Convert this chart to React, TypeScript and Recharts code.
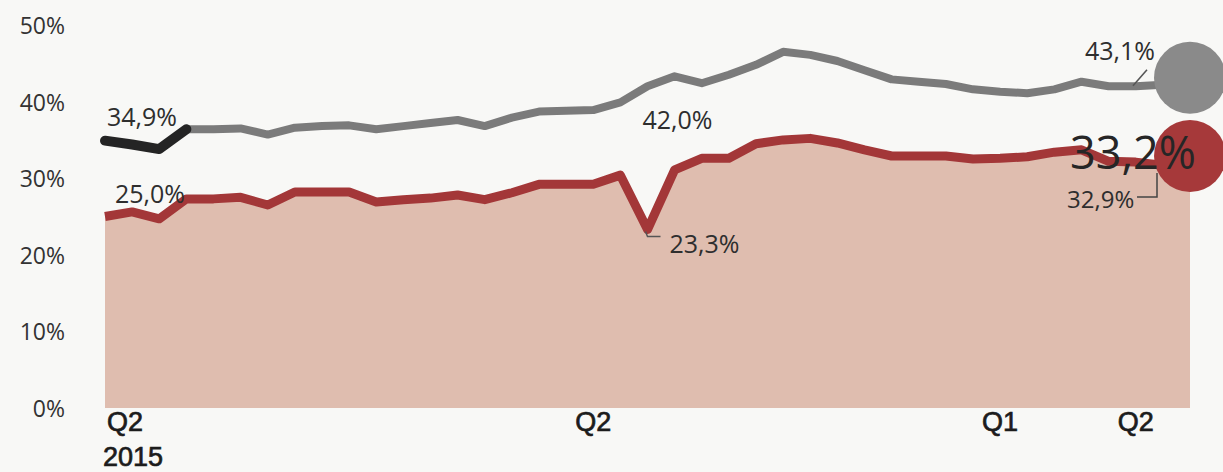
import React from "react";
import { ComposedChart, Line, Area, XAxis, YAxis, LabelList } from "recharts";

// upper series (grey line, first stretch highlighted in black) and lower series (red, filled)
const upperValues = [
  34.9, 34.4, 33.8, 36.4, 36.4, 36.5, 35.7, 36.6, 36.8, 36.9, 36.4, 36.8, 37.2, 37.6,
  36.8, 37.9, 38.7, 38.8, 38.9, 39.9, 42.0, 43.3, 42.4, 43.5, 44.8, 46.5, 46.1, 45.3,
  44.1, 42.9, 42.6, 42.3, 41.6, 41.3, 41.1, 41.6, 42.6, 42.0, 42.0, 42.2, 43.1,
];
const lowerValues = [
  25.0, 25.6, 24.7, 27.3, 27.3, 27.5, 26.5, 28.2, 28.2, 28.2, 26.9, 27.2, 27.4, 27.8,
  27.2, 28.1, 29.2, 29.2, 29.2, 30.4, 23.3, 31.1, 32.6, 32.6, 34.5, 35.0, 35.2, 34.6,
  33.7, 32.9, 32.9, 32.9, 32.5, 32.6, 32.8, 33.4, 33.7, 32.2, 32.1, 31.7, 32.9,
];
const highlightEnd = 3; // black part of the upper line
const headlineValue = 33.2;

const quarterTicks = [0, 18, 33, 38];
const quarterLabels = ["Q2", "Q2", "Q1", "Q2"];
const firstYear = "2015";
const yTicks = [0, 10, 20, 30, 40, 50];

const lastIndex = upperValues.length - 1;
const dipIndex = 20;

const data = upperValues.map((u, i) => ({
  i,
  lead: i <= highlightEnd ? u : null,
  upper: i >= highlightEnd ? u : null,
  lower: lowerValues[i],
}));

const fmt = (v: number) => v.toFixed(1).replace(".", ",") + "%";

const LABEL_FONT = "'Open Sans', 'Noto Sans', sans-serif";
const labelStyle = { fontFamily: LABEL_FONT, fontSize: 25, fill: "#2e2e2e" };

const endDot = (color: string) => (props: any) => {
  const { cx, cy, index } = props;
  if (index !== lastIndex || cx == null || cy == null) return <g key={`d${index}`} />;
  return <circle key={`d${index}`} cx={cx} cy={cy} r={36} fill={color} />;
};

const leadLabel = (props: any) => {
  const { x, y, value, index } = props;
  if (index !== 0 || value == null) return null;
  return (
    <text x={x + 2} y={y - 25} dominantBaseline="central" {...labelStyle}>
      {fmt(value)}
    </text>
  );
};

const upperLabel = (props: any) => {
  const { x, y, value, index } = props;
  if (value == null) return null;
  if (index === dipIndex)
    return (
      <text x={x - 5} y={y + 33} dominantBaseline="central" {...labelStyle}>
        {fmt(value)}
      </text>
    );
  if (index === lastIndex)
    return (
      <g>
        <path d={`M${x - 57},${y + 8} L${x - 43},${y - 8}`} stroke="#555" strokeWidth={1.5} fill="none" />
        <text x={x - 105} y={y - 28} dominantBaseline="central" {...labelStyle}>
          {fmt(value)}
        </text>
      </g>
    );
  return null;
};

const lowerLabel = (props: any) => {
  const { x, y, value, index } = props;
  if (value == null) return null;
  if (index === 0)
    return (
      <text x={x + 10} y={y - 24} dominantBaseline="central" {...labelStyle}>
        {fmt(value)}
      </text>
    );
  if (index === dipIndex)
    return (
      <g>
        <path d={`M${x - 2},${y + 2} L${x},${y + 7} L${x + 13},${y + 7}`} stroke="#555" strokeWidth={1.5} fill="none" />
        <text x={x + 22} y={y + 13} dominantBaseline="central" {...labelStyle}>
          {fmt(value)}
        </text>
      </g>
    );
  if (index === lastIndex)
    return (
      <g>
        <path d={`M${x - 53},${y + 41} L${x - 33},${y + 41} L${x - 33},${y + 17}`} stroke="#444" strokeWidth={1.5} fill="none" />
        <text x={x - 123} y={y + 43} dominantBaseline="central" {...labelStyle} fontSize={24}>
          {fmt(value)}
        </text>
        <text
          x={x - 57}
          y={y - 4}
          textAnchor="middle"
          dominantBaseline="central"
          fontFamily={LABEL_FONT}
          fontSize={45}
          fill="#262626"
        >
          {fmt(headlineValue)}
        </text>
      </g>
    );
  return null;
};

const PercentTick = (props: any) => {
  const { y, payload } = props;
  return (
    <text x={65} y={y} textAnchor="end" dominantBaseline="central" fontFamily={LABEL_FONT} fontSize={23} fill="#333">
      {`${payload.value}%`}
    </text>
  );
};

const QuarterTick = (props: any) => {
  const { x, y, payload } = props;
  const k = quarterTicks.indexOf(payload.value);
  const first = k === 0;
  const style = {
    fontFamily: "'Liberation Sans', Arial, sans-serif",
    fontSize: 27,
    fill: "#1c1c1c",
    stroke: "#1c1c1c",
    strokeWidth: 0.7,
  };
  return (
    <g>
      <text x={first ? x + 2 : x} y={y + 14} textAnchor={first ? "start" : "middle"} dominantBaseline="central" {...style}>
        {quarterLabels[k]}
      </text>
      {first && (
        <text x={x - 2} y={y + 49} textAnchor="start" dominantBaseline="central" {...style}>
          {firstYear}
        </text>
      )}
    </g>
  );
};

export default function App() {
  return (
    <div style={{ position: "absolute", left: 0, top: 0, width: 1223, height: 472, background: "#f8f8f6" }}>
      <ComposedChart width={1223} height={472} data={data} margin={{ top: 25, right: 33, bottom: 0, left: 0 }}>
        <XAxis
          dataKey="i"
          type="number"
          domain={[0, lastIndex]}
          ticks={quarterTicks}
          tick={<QuarterTick />}
          tickLine={false}
          axisLine={false}
          tickSize={0}
          tickMargin={0}
          height={64}
          interval={0}
        />
        <YAxis
          domain={[0, 50]}
          ticks={yTicks}
          tickLine={false}
          axisLine={false}
          width={105}
          tick={<PercentTick />}
        />
        <Line
          type="linear"
          dataKey="upper"
          stroke="#7b7b7b"
          strokeWidth={8}
          strokeLinejoin="round"
          dot={endDot("#8a8a8a")}
          activeDot={false}
          isAnimationActive={false}
        >
          <LabelList dataKey="upper" content={upperLabel} />
        </Line>
        <Area
          type="linear"
          dataKey="lower"
          stroke="#a33738"
          strokeWidth={9}
          strokeLinejoin="round"
          fill="#dfbdaf"
          fillOpacity={1}
          baseValue={0}
          dot={endDot("#a6393a")}
          activeDot={false}
          isAnimationActive={false}
        >
          <LabelList dataKey="lower" content={lowerLabel} />
        </Area>
        <Line
          type="linear"
          dataKey="lead"
          stroke="#242424"
          strokeWidth={10}
          strokeLinejoin="round"
          strokeLinecap="round"
          dot={false}
          activeDot={false}
          isAnimationActive={false}
        >
          <LabelList dataKey="lead" content={leadLabel} />
        </Line>
      </ComposedChart>
    </div>
  );
}
